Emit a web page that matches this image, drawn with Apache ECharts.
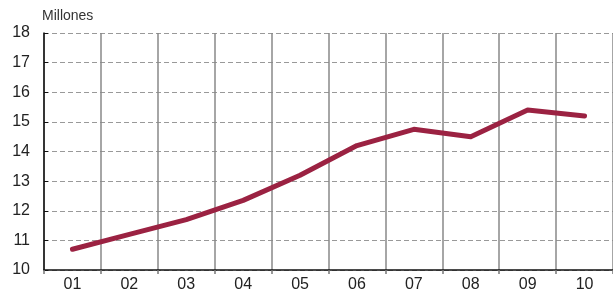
<!DOCTYPE html>
<html>
<head>
<meta charset="utf-8">
<script src="https://cdn.jsdelivr.net/npm/echarts@6/dist/echarts.min.js"></script>
<style>
  html, body { margin: 0; padding: 0; background: #fff; }
  #chart { width: 613px; height: 293px; }
</style>
</head>
<body>
<div id="chart"></div>
<script>
// chart data
var years = ["01", "02", "03", "04", "05", "06", "07", "08", "09", "10"];
var values = [10.7, 11.2, 11.7, 12.35, 13.2, 14.2, 14.75, 14.5, 15.4, 15.2];
var yMin = 10, yMax = 18, yStep = 1;
var unitLabel = "Millones";

var chart = echarts.init(document.getElementById("chart"));
var font = "'Liberation Sans', Arial, sans-serif";

chart.setOption({
  animation: false,
  grid: { left: 44, right: 0, top: 33, bottom: 21 },
  graphic: [{
    type: "text",
    left: 42,
    top: 9,
    style: { text: unitLabel, fontFamily: font, fontSize: 14, fill: "#333" }
  }],
  xAxis: {
    type: "category",
    data: years,
    boundaryGap: true,
    axisLine: { lineStyle: { color: "#111", width: 1.5 } },
    axisTick: { show: true, length: 4, lineStyle: { color: "#777", width: 1.5 } },
    axisLabel: { color: "#222", fontFamily: font, fontSize: 16, margin: 7 },
    splitLine: { show: true, lineStyle: { color: "#888", width: 1.5 } }
  },
  yAxis: {
    type: "value",
    min: yMin,
    max: yMax,
    interval: yStep,
    axisLine: { show: true, lineStyle: { color: "#111", width: 1.5 } },
    axisTick: { show: true, inside: true, length: 4, lineStyle: { color: "#111" } },
    axisLabel: { color: "#222", fontFamily: font, fontSize: 16, margin: 14 },
    splitLine: { show: true, lineStyle: { color: "#999", type: [5, 3], width: 1 } }
  },
  series: [{
    type: "line",
    data: values,
    symbol: "none",
    lineStyle: { color: "#9b2242", width: 5, cap: "round", join: "round" }
  }]
});
</script>
</body>
</html>
